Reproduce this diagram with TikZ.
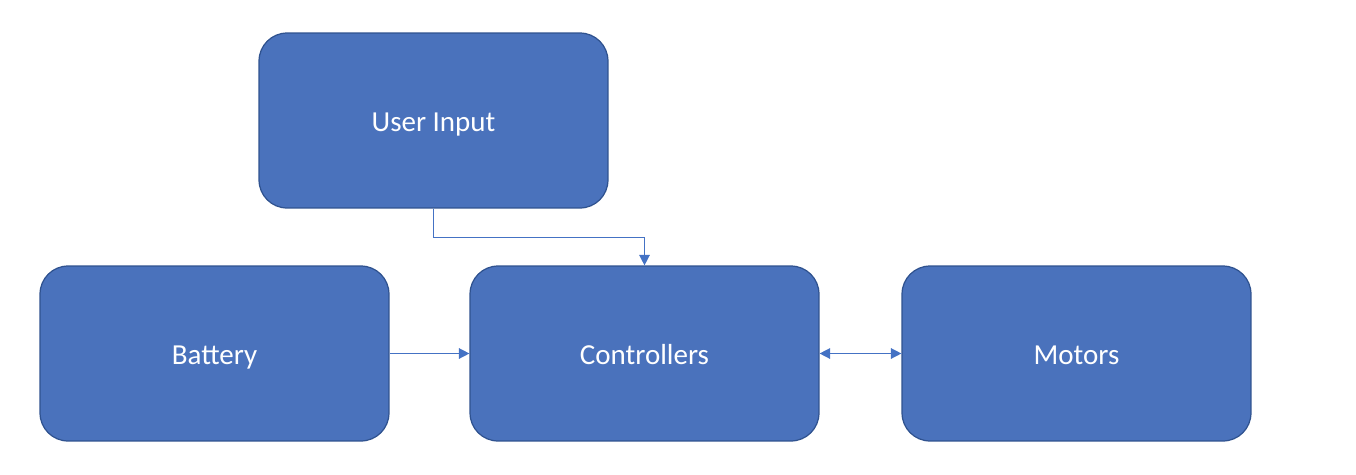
\documentclass[tikz,border=0pt]{standalone}
\usepackage{fontspec}
\setmainfont{Carlito}
\usetikzlibrary{arrows.meta,positioning}
\definecolor{boxfill}{HTML}{4A72BC}
\definecolor{boxline}{HTML}{2F528F}
\definecolor{linkcol}{HTML}{4472C4}

\begin{document}
\begin{tikzpicture}[x=0.02cm, y=-0.02cm,
  every node/.style={rectangle, rounded corners=0.56cm, draw=boxline, fill=boxfill, line width=0.7pt,
    minimum width=6.98cm, minimum height=3.5cm, text=white, text height=12.5pt, text depth=0pt,
    font=\fontsize{16.5}{20}\selectfont},
  link/.style={draw=linkcol, line width=0.8pt, -{Triangle[width=6pt,length=6pt]}}]
  \useasboundingbox (0,0) rectangle (1356,474);
  \node (user) at (433.5,120.5) {User Input};
  \node (battery) at (214.5,353.5) {Battery};
  \node (ctrl) at (644.5,353.5) {Controllers};
  \node (motors) at (1076.5,353.5) {Motors};
  \draw[link] (user.south) -- ++(0,29) -| (ctrl.north);
  \draw[link] (battery) -- (ctrl);
  \draw[link, {Triangle[width=6pt,length=6pt]}-{Triangle[width=6pt,length=6pt]}] (ctrl) -- (motors);
\end{tikzpicture}
\end{document}
